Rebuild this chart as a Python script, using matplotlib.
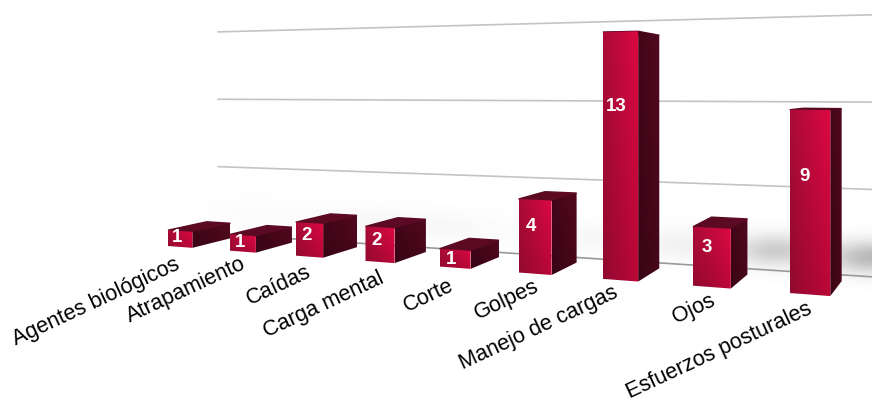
import numpy as np
import matplotlib
matplotlib.use('Agg')
import matplotlib.pyplot as plt
from matplotlib.patches import Polygon

plt.rcParams['font.family'] = ['Liberation Sans', 'DejaVu Sans']

# Datos
categorias = ['Agentes biológicos', 'Atrapamiento', 'Caídas', 'Carga mental', 'Corte',
              'Golpes', 'Manejo de cargas', 'Ojos', 'Esfuerzos posturales']
valores = [1, 1, 2, 2, 1, 4, 13, 3, 9]
lineas_guia = [5, 10, 15]

# Ajustes de la etiqueta de cada barra
alto_etiqueta = [0.57, 0.55, 0.62, 0.62, 0.47, 0.635, 0.70, 0.66, 0.636]
baja_texto = [17, 11, 14, 15, 17, 12, 11, 13, 14]
corre_texto = [-2, 2, 0, 3, -2, 3, -4, 2, 1]
sombra = [0.02, 0.02, 0.04, 0.04, 0.02, 0.05, 0.08, 0.30, 0.42]

# Parametros de la perspectiva (pixeles de la imagen)
X0, Y0 = 168, 246
ANCHO = 0.4
FONDO_BARRA = 1.0
FONDO_PARED = 3.03


def proyectar(i, v, z=0.0):
    w = 1 - 0.028 * i + 0.0472 * z
    x = X0 + (60.3 * i + 40.5 * z) / w
    y = Y0 + (4.56 * i - 15.8 * v - 9.8 * z) / w
    return x, y


def pared(i, v):
    x, y = proyectar(i, v, FONDO_PARED)
    return x, y + 17.8 + 0.35 * i


def degradado(ax, puntos, claro, oscuro, zorder):
    # cara con degradado horizontal, recortada al poligono
    xs = [p[0] for p in puntos]
    ys = [p[1] for p in puntos]
    t = np.linspace(0, 1, 40)[None, :, None]
    v = np.linspace(1.08, 0.92, 40)[:, None, None]
    img = np.clip((np.array(oscuro) * (1 - t) + np.array(claro) * t) * v, 0, 1)
    im = ax.imshow(img, extent=(min(xs), max(xs), max(ys), min(ys)), aspect='auto',
                   zorder=zorder, interpolation='bilinear')
    im.set_clip_path(Polygon(puntos, closed=True, transform=ax.transData))


fig = plt.figure(figsize=(8.72, 4.03), dpi=100)
ax = fig.add_axes([0, 0, 1, 1])
ax.axis('off')

# Sombra difusa sobre el piso
gx, gy = np.meshgrid(np.arange(872) + 0.5, np.arange(403) + 0.5)
alfa = np.zeros(gx.shape)
for i, a in enumerate(sombra):
    cx, cy = proyectar(i + 0.7, 0, FONDO_BARRA)
    alfa = alfa + a * np.exp(-((gx - cx) / 42) ** 2 - ((gy - cy + 26) / 16) ** 2)
rgba = np.zeros(gx.shape + (4,))
rgba[..., :3] = 0.35
rgba[..., 3] = np.clip(alfa, 0, 1)
ax.imshow(rgba, extent=(0, 872, 403, 0), aspect='auto', zorder=0.5)

# Lineas de la pared
for v in lineas_guia:
    a, b = pared(-1.06, v), pared(9.5, v)
    ax.plot([a[0], b[0]], [a[1], b[1]], color='#c4c4c4', lw=1.2, zorder=1)
a, b = pared(-1.06, 0), pared(9.5, 0)
ax.plot([a[0], b[0]], [a[1], b[1]], color='#999999', lw=1.2, zorder=1)

# Barras
for i, (cat, val) in enumerate(zip(categorias, valores)):
    fi = proyectar(i, 0)
    fd = proyectar(i + ANCHO, 0)
    si = proyectar(i, val)
    sd = proyectar(i + ANCHO, val)
    fd2 = proyectar(i + ANCHO, 0, FONDO_BARRA)
    sd2 = proyectar(i + ANCHO, val * 0.985, FONDO_BARRA)
    si2 = proyectar(i, val * 0.985, FONDO_BARRA)

    z = 3 + i
    ax.add_patch(Polygon([si, sd, sd2, si2], closed=True, color='#5c0a24', zorder=z))
    degradado(ax, [fd, sd, sd2, fd2], (0.30, 0.03, 0.11), (0.24, 0.02, 0.09), z)
    degradado(ax, [fi, si, sd, fd], (0.80, 0.03, 0.24), (0.62, 0.04, 0.20), z + 0.1)

    xe, ye = proyectar(i + ANCHO * 0.38, val * alto_etiqueta[i])
    ax.text(xe, ye, str(val), color='white', fontweight='bold', fontsize=13.5,
            ha='center', va='center', zorder=30)

    xc, yc = proyectar(i + ANCHO / 2, 0)
    ax.text(xc + corre_texto[i], yc + baja_texto[i], cat, color='black', fontsize=15.7,
            rotation=25, rotation_mode='anchor', ha='right', va='center', zorder=30)

ax.set_xlim(0, 872)
ax.set_ylim(403, 0)
fig.savefig('out.png', dpi=100)
